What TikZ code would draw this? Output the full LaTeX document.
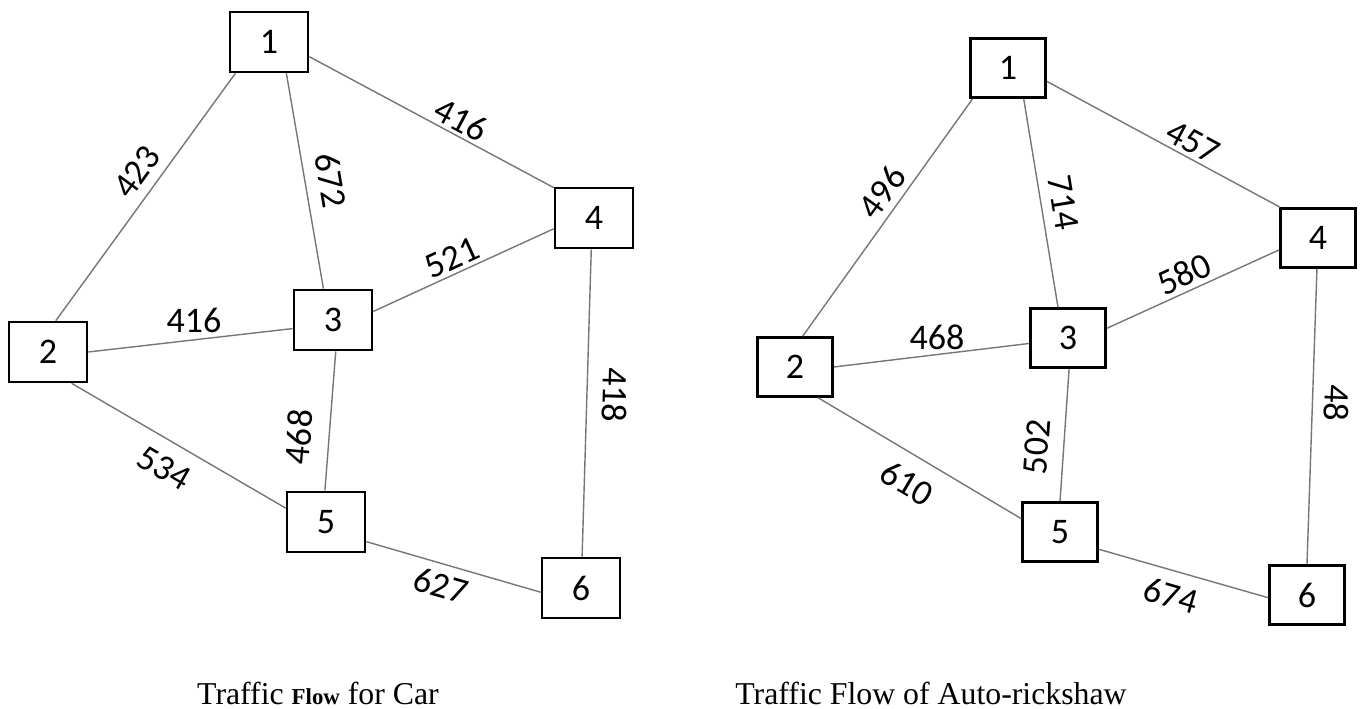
\documentclass[tikz,border=0pt]{standalone}
\usepackage{fontspec}
\newfontfamily\numfont{Carlito}
\newfontfamily\capfont{Liberation Serif}
\definecolor{edgegray}{RGB}{118,118,118}
\tikzset{
  box/.style={draw=black, line width=1.5pt, minimum width=1.56cm, minimum height=1.2cm, inner sep=0pt, font=\numfont\fontsize{20.5}{24}\selectfont},
  rbox/.style={box, minimum width=1.5cm, minimum height=1.18cm},
  edge/.style={draw=edgegray, line width=0.8pt},
  lbl/.style={inner sep=0pt, font=\numfont\fontsize{20.5}{24}\selectfont},
  captext/.style={inner sep=0pt, anchor=base, font=\capfont\fontsize{18.1}{21}\selectfont}
}
\begin{document}
\begin{tikzpicture}[x=0.02cm, y=-0.02cm]
\useasboundingbox (0,0) rectangle (1365,709);
% ---------- left graph ----------
\node[box] (a1) at (269,42) {1};
\node[box] (a2) at (48,352) {2};
\node[box] (a3) at (333,320) {3};
\node[box] (a4) at (594,218) {4};
\node[box] (a5) at (326,522) {5};
\node[box] (a6) at (581,588) {6};
\draw[edge] (a1.223) -- (a2.76);
\draw[edge] (a1.299) -- (a3.107);
\draw[edge] (a1.340) -- (a4.143);
\draw[edge] (a3.12) -- (a4.195);
\draw[edge] (a2.0) -- (a3.192);
\draw[edge] (a3.275) -- (a5.92);
\draw[edge] (a2.307) -- (a5.161);
\draw[edge] (a4.265) -- (a6.88);
\draw[edge] (a5.334) -- (a6.186);
\node[lbl, rotate=54] (la12) at (137,172) {423};
\node[lbl, rotate=-80.4] (la13) at (331,180) {672};
\node[lbl, rotate=-28] (la14) at (461,120) {416};
\node[lbl, rotate=24.6] (la34) at (452,258) {521};
\node[lbl] (la23) at (194,320) {416};
\node[lbl, rotate=85] (la35) at (299,437) {468};
\node[lbl, rotate=-91.7] (la46) at (615,395) {418};
\node[lbl, rotate=-30] (la25) at (164,468) {534};
\node[lbl, rotate=-16] (la56) at (441,585) {627};
\node[captext] (capa) at (318,704) {Traffic {\fontsize{13}{15}\selectfont\bfseries Flow} for Car};
% ---------- right graph ----------
\node[rbox] (b1) at (1008,68) {1};
\node[rbox] (b2) at (795,367) {2};
\node[rbox] (b3) at (1068,338) {3};
\node[rbox] (b4) at (1318,238) {4};
\node[rbox] (b5) at (1060,532) {5};
\node[rbox] (b6) at (1307,595) {6};
\draw[edge] (b1.221) -- (b2.76);
\draw[edge] (b1.297) -- (b3.108);
\draw[edge] (b1.341) -- (b4.141);
\draw[edge] (b3.14) -- (b4.197);
\draw[edge] (b2.0) -- (b3.188);
\draw[edge] (b3.272) -- (b5.90);
\draw[edge] (b2.307) -- (b5.161);
\draw[edge] (b4.268) -- (b6.90);
\draw[edge] (b5.336) -- (b6.184);
\node[lbl, rotate=54] (lb12) at (882,192) {496};
\node[lbl, rotate=-80.7] (lb13) at (1063,203) {714};
\node[lbl, rotate=-28.4] (lb14) at (1193,142) {457};
\node[lbl, rotate=24.5] (lb34) at (1184,274) {580};
\node[lbl] (lb23) at (937,337) {468};
\node[lbl, rotate=86] (lb35) at (1037,447) {502};
\node[lbl, rotate=-92] (lb46) at (1337,403) {48};
\node[lbl, rotate=-30.7] (lb25) at (907,483) {610};
\node[lbl, rotate=-16] (lb56) at (1171,595) {674};
\node[captext] (capb) at (931,704) {Traffic Flow of Auto-rickshaw};
\end{tikzpicture}
\end{document}
